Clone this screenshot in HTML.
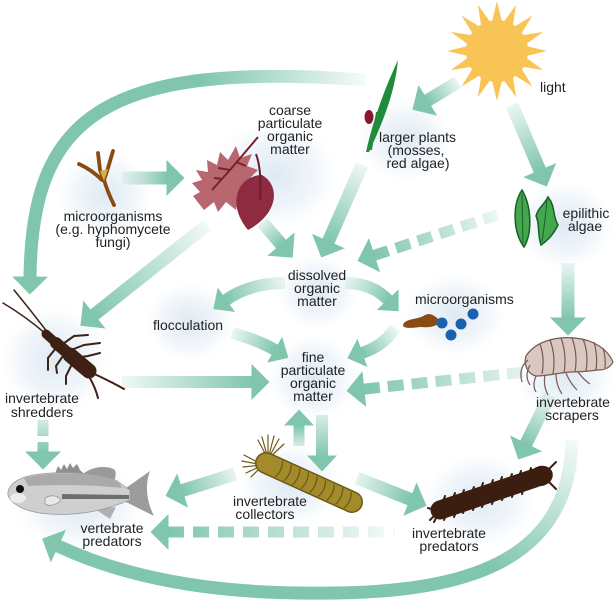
<!DOCTYPE html>
<html><head><meta charset="utf-8">
<style>
html,body{margin:0;padding:0;background:#fff;}
svg{display:block;}
text{font-family:"Liberation Sans",sans-serif;font-size:14px;fill:#222;text-anchor:middle;}
</style></head>
<body>
<svg width="614" height="600" viewBox="0 0 614 600" xmlns="http://www.w3.org/2000/svg">
<defs>
<radialGradient id="gl"><stop offset="0" stop-color="#dae7f2" stop-opacity="0.9"/><stop offset="0.6" stop-color="#e3edf6" stop-opacity="0.55"/><stop offset="1" stop-color="#eef4fa" stop-opacity="0"/></radialGradient>
<marker id="hb" markerUnits="userSpaceOnUse" markerWidth="19" markerHeight="36" viewBox="0 0 19 36" refX="0.5" refY="18" orient="auto"><path d="M0,0 L18,18 L0,36Z" fill="#80c6ad"/></marker>
<marker id="hbs" markerUnits="userSpaceOnUse" markerWidth="19" markerHeight="36" viewBox="0 0 19 36" refX="0.5" refY="18" orient="auto-start-reverse"><path d="M0,0 L18,18 L0,36Z" fill="#80c6ad"/></marker>
<marker id="hs" markerUnits="userSpaceOnUse" markerWidth="17" markerHeight="30" viewBox="0 0 17 30" refX="0.5" refY="15" orient="auto"><path d="M0,0 L16,15 L0,30Z" fill="#80c6ad"/></marker>
<polygon id="ray" points="-5.5,-27 0,-50 5.5,-27" fill="#f8c456"/>
<linearGradient id="g1" gradientUnits="userSpaceOnUse" x1="458" y1="82" x2="427" y2="101"><stop offset="0" stop-color="#80c6ad" stop-opacity="0.15"/><stop offset="1" stop-color="#80c6ad"/></linearGradient>
<linearGradient id="g2" gradientUnits="userSpaceOnUse" x1="512" y1="105" x2="540" y2="170"><stop offset="0" stop-color="#80c6ad" stop-opacity="0.15"/><stop offset="1" stop-color="#80c6ad"/></linearGradient>
<linearGradient id="g3" gradientUnits="userSpaceOnUse" x1="362" y1="165" x2="328" y2="241"><stop offset="0" stop-color="#80c6ad" stop-opacity="0.15"/><stop offset="1" stop-color="#80c6ad"/></linearGradient>
<linearGradient id="g4" gradientUnits="userSpaceOnUse" x1="497" y1="215" x2="374" y2="255"><stop offset="0" stop-color="#80c6ad" stop-opacity="0.15"/><stop offset="1" stop-color="#80c6ad"/></linearGradient>
<linearGradient id="g5" gradientUnits="userSpaceOnUse" x1="568" y1="263" x2="568" y2="318"><stop offset="0" stop-color="#80c6ad" stop-opacity="0.15"/><stop offset="1" stop-color="#80c6ad"/></linearGradient>
<linearGradient id="g6" gradientUnits="userSpaceOnUse" x1="122" y1="178" x2="167" y2="178"><stop offset="0" stop-color="#80c6ad" stop-opacity="0.1"/><stop offset="1" stop-color="#80c6ad"/></linearGradient>
<linearGradient id="g7" gradientUnits="userSpaceOnUse" x1="262" y1="222" x2="281" y2="244"><stop offset="0" stop-color="#80c6ad" stop-opacity="0.2"/><stop offset="1" stop-color="#80c6ad"/></linearGradient>
<linearGradient id="g8" gradientUnits="userSpaceOnUse" x1="207" y1="225" x2="94" y2="315"><stop offset="0" stop-color="#80c6ad" stop-opacity="0.1"/><stop offset="1" stop-color="#80c6ad"/></linearGradient>
<linearGradient id="g9" gradientUnits="userSpaceOnUse" x1="365" y1="80" x2="200" y2="80"><stop offset="0" stop-color="#80c6ad" stop-opacity="0.08"/><stop offset="1" stop-color="#80c6ad"/></linearGradient>
<linearGradient id="g10" gradientUnits="userSpaceOnUse" x1="285" y1="283" x2="226" y2="300"><stop offset="0" stop-color="#80c6ad" stop-opacity="0.15"/><stop offset="1" stop-color="#80c6ad"/></linearGradient>
<linearGradient id="g11" gradientUnits="userSpaceOnUse" x1="345" y1="283" x2="388" y2="300"><stop offset="0" stop-color="#80c6ad" stop-opacity="0.15"/><stop offset="1" stop-color="#80c6ad"/></linearGradient>
<linearGradient id="g12" gradientUnits="userSpaceOnUse" x1="232" y1="333" x2="275" y2="350"><stop offset="0" stop-color="#80c6ad" stop-opacity="0.15"/><stop offset="1" stop-color="#80c6ad"/></linearGradient>
<linearGradient id="g13" gradientUnits="userSpaceOnUse" x1="395" y1="328" x2="362" y2="353"><stop offset="0" stop-color="#80c6ad" stop-opacity="0.15"/><stop offset="1" stop-color="#80c6ad"/></linearGradient>
<linearGradient id="g14" gradientUnits="userSpaceOnUse" x1="122" y1="382" x2="252" y2="382"><stop offset="0" stop-color="#80c6ad" stop-opacity="0.12"/><stop offset="1" stop-color="#80c6ad"/></linearGradient>
<linearGradient id="g15" gradientUnits="userSpaceOnUse" x1="545" y1="370" x2="364" y2="389"><stop offset="0" stop-color="#80c6ad" stop-opacity="0.1"/><stop offset="1" stop-color="#80c6ad"/></linearGradient>
<linearGradient id="g16" gradientUnits="userSpaceOnUse" x1="299" y1="446" x2="299" y2="426"><stop offset="0" stop-color="#80c6ad" stop-opacity="0.3"/><stop offset="1" stop-color="#80c6ad"/></linearGradient>
<linearGradient id="g16b" gradientUnits="userSpaceOnUse" x1="322" y1="415" x2="322" y2="456"><stop offset="0" stop-color="#80c6ad" stop-opacity="0.3"/><stop offset="1" stop-color="#80c6ad"/></linearGradient>
<linearGradient id="g17" gradientUnits="userSpaceOnUse" x1="235" y1="474" x2="182" y2="491"><stop offset="0" stop-color="#80c6ad" stop-opacity="0.2"/><stop offset="1" stop-color="#80c6ad"/></linearGradient>
<linearGradient id="g18" gradientUnits="userSpaceOnUse" x1="357" y1="478" x2="410" y2="499"><stop offset="0" stop-color="#80c6ad" stop-opacity="0.2"/><stop offset="1" stop-color="#80c6ad"/></linearGradient>
<linearGradient id="g19" gradientUnits="userSpaceOnUse" x1="395" y1="532" x2="168" y2="532"><stop offset="0" stop-color="#80c6ad" stop-opacity="0.08"/><stop offset="1" stop-color="#80c6ad"/></linearGradient>
<linearGradient id="g20" gradientUnits="userSpaceOnUse" x1="43" y1="418" x2="43" y2="452"><stop offset="0" stop-color="#80c6ad" stop-opacity="0.3"/><stop offset="1" stop-color="#80c6ad"/></linearGradient>
<linearGradient id="g21" gradientUnits="userSpaceOnUse" x1="550" y1="395" x2="526" y2="444"><stop offset="0" stop-color="#80c6ad" stop-opacity="0.15"/><stop offset="1" stop-color="#80c6ad"/></linearGradient>
<linearGradient id="g22" gradientUnits="userSpaceOnUse" x1="575" y1="440" x2="500" y2="572"><stop offset="0" stop-color="#80c6ad" stop-opacity="0.08"/><stop offset="1" stop-color="#80c6ad"/></linearGradient>
</defs>

<!-- glows -->
<g>
<ellipse cx="275" cy="175" rx="65" ry="55" fill="url(#gl)"/>
<ellipse cx="105" cy="195" rx="48" ry="45" fill="url(#gl)"/>
<ellipse cx="405" cy="140" rx="48" ry="42" fill="url(#gl)"/>
<ellipse cx="565" cy="225" rx="50" ry="45" fill="url(#gl)"/>
<ellipse cx="318" cy="292" rx="42" ry="38" fill="url(#gl)"/>
<ellipse cx="190" cy="322" rx="45" ry="40" fill="url(#gl)"/>
<ellipse cx="455" cy="315" rx="52" ry="42" fill="url(#gl)"/>
<ellipse cx="313" cy="378" rx="46" ry="44" fill="url(#gl)"/>
<ellipse cx="55" cy="360" rx="55" ry="55" fill="url(#gl)"/>
<ellipse cx="565" cy="375" rx="50" ry="45" fill="url(#gl)"/>
<ellipse cx="290" cy="485" rx="52" ry="42" fill="url(#gl)"/>
<ellipse cx="480" cy="500" rx="58" ry="48" fill="url(#gl)"/>
<ellipse cx="80" cy="505" rx="68" ry="45" fill="url(#gl)"/>
</g>

<!-- arrows -->
<g fill="none">
<path d="M458,82 L427.4,100.6" stroke="url(#g1)" stroke-width="13" marker-end="url(#hb)"/>
<path d="M512,105 L539.9,170.5" stroke="url(#g2)" stroke-width="13" marker-end="url(#hb)"/>
<path d="M362,165 L328.3,241.5" stroke="url(#g3)" stroke-width="13" marker-end="url(#hb)"/>
<path d="M374.1,255.4 L497,215" stroke="url(#g4)" stroke-width="11" stroke-dasharray="15 8" marker-start="url(#hbs)"/>
<path d="M568,263 L568,318" stroke="url(#g5)" stroke-width="13" marker-end="url(#hb)"/>
<path d="M122,178 L167,178" stroke="url(#g6)" stroke-width="13" marker-end="url(#hb)"/>
<path d="M262,222 L281.3,244.4" stroke="url(#g7)" stroke-width="13" marker-end="url(#hb)"/>
<path d="M207,225 L94.1,314.8" stroke="url(#g8)" stroke-width="13" marker-end="url(#hb)"/>
<path d="M365,80 C100,60 32,120 30,277" stroke="url(#g9)" stroke-width="13" marker-end="url(#hb)"/>
<path d="M285,283 Q250,283 226,300" stroke="url(#g10)" stroke-width="12" marker-end="url(#hs)"/>
<path d="M345,283 Q372,283 388,300" stroke="url(#g11)" stroke-width="12" marker-end="url(#hs)"/>
<path d="M232,333 Q258,340 275,350" stroke="url(#g12)" stroke-width="12" marker-end="url(#hs)"/>
<path d="M395,328 Q385,345 362,353" stroke="url(#g13)" stroke-width="12" marker-end="url(#hs)"/>
<path d="M122,382 L252,382" stroke="url(#g14)" stroke-width="12" marker-end="url(#hb)"/>
<path d="M363.9,389.1 L545,370" stroke="url(#g15)" stroke-width="11" stroke-dasharray="16 8" marker-start="url(#hbs)"/>
<path d="M299,446 L299,425" stroke="url(#g16)" stroke-width="11" marker-end="url(#hs)"/>
<path d="M322,415 L322,456" stroke="url(#g16b)" stroke-width="12" marker-end="url(#hs)"/>
<path d="M235,474 L182.2,490.6" stroke="url(#g17)" stroke-width="13" marker-end="url(#hb)"/>
<path d="M357,478 L410.3,499.3" stroke="url(#g18)" stroke-width="13" marker-end="url(#hb)"/>
<path d="M168,532 L395,532" stroke="url(#g19)" stroke-width="11" stroke-dasharray="16 9" marker-start="url(#hbs)"/>
<path d="M43,452 L43,418" stroke="url(#g20)" stroke-width="11" stroke-dasharray="10 6 16 20" marker-start="url(#hbs)"/>
<path d="M550,395 L526,443.8" stroke="url(#g21)" stroke-width="13" marker-end="url(#hb)"/>
<path d="M572,440 C570,580 430,595 300,593 C200,592 120,575 58,546" stroke="url(#g22)" stroke-width="13" marker-end="url(#hb)"/>
</g>

<!-- sun -->
<g transform="translate(497,51)">
<use href="#ray" transform="rotate(0)"/><use href="#ray" transform="rotate(22.5)"/><use href="#ray" transform="rotate(45)"/><use href="#ray" transform="rotate(67.5)"/>
<use href="#ray" transform="rotate(90)"/><use href="#ray" transform="rotate(112.5)"/><use href="#ray" transform="rotate(135)"/><use href="#ray" transform="rotate(157.5)"/>
<use href="#ray" transform="rotate(180)"/><use href="#ray" transform="rotate(202.5)"/><use href="#ray" transform="rotate(225)"/><use href="#ray" transform="rotate(247.5)"/>
<use href="#ray" transform="rotate(270)"/><use href="#ray" transform="rotate(292.5)"/><use href="#ray" transform="rotate(315)"/><use href="#ray" transform="rotate(337.5)"/>
<circle r="31" fill="#f8c456"/>
</g>

<!-- larger plants -->
<path d="M366,152 C373,120 385,88 398,60 C395,92 383,122 369,152 Z" fill="#1f8c3b"/>
<path d="M371,150 L377,112" stroke="#1f8c3b" stroke-width="2" fill="none"/>
<ellipse cx="369" cy="117" rx="4.5" ry="7" fill="#861a2c"/>

<!-- epilithic algae -->
<path d="M522,190 C531,205 533,232 524,247 C513,232 512,205 522,190 Z" fill="#43a84c" stroke="#1a5e2c" stroke-width="1.5"/>
<path d="M522,194 L523,243" stroke="#1a5e2c" stroke-width="1"/>
<path d="M548,197 C556,207 552,215 558,225 C553,235 548,240 541,245 C537,232 540,224 536,216 C538,208 544,205 548,197 Z" fill="#43a84c" stroke="#1a5e2c" stroke-width="1.5"/>
<path d="M547,200 Q545,222 542,242" stroke="#1a5e2c" stroke-width="1" fill="none"/>

<!-- fungi twig -->
<g fill="none" stroke="#8a4b12" stroke-width="3.8" stroke-linecap="round">
<path d="M79,164 Q92,170 102,180"/>
<path d="M98,153 L100,170 L104,180"/>
<path d="M113,151 L108,168 L104,180"/>
<path d="M104,180 Q108,193 114,205"/>
</g>
<polygon points="100,171 108,169 104,181" fill="#d4b048"/>

<!-- CPOM leaves -->
<path d="M200,205 L193,196 L200,192 L192,183 L202,180 L196,170 L208,172 L207,160 L217,165 L220,152 L228,160 L236,146 L240,158 L252,154 L247,166 L258,170 L250,178 L256,186 L246,190 L250,200 L238,198 L236,210 L226,202 L218,212 L214,202 L204,210 Z" fill="#b9676f"/>
<path d="M258,137 L230,170 L212,190 M230,170 L218,168 M236,162 L246,166 M222,179 L214,178" stroke="#7a2030" stroke-width="2" fill="none"/>
<path d="M262,175 C281,186 278,214 248,230 C236,216 231,196 244,182 C250,177 256,175 262,175 Z" fill="#8e2b41"/>
<path d="M256,154 Q262,170 260,200" stroke="#6b1f2a" stroke-width="2" fill="none"/>

<!-- microorganisms -->
<path d="M403,325 C405,318 418,320 425,315 C432,312 436,318 440,320 C440,326 430,328 420,327 C412,328 403,329 403,325 Z" fill="#8a4a14"/>
<circle cx="442" cy="323" r="5.5" fill="#1763b0"/>
<circle cx="461" cy="324" r="5.5" fill="#1763b0"/>
<circle cx="473" cy="314" r="5.5" fill="#1763b0"/>
<circle cx="451" cy="335" r="5.5" fill="#1763b0"/>

<!-- shredder -->
<g fill="none" stroke="#3e2114" stroke-linecap="round">
<path d="M46,334 Q25,316 3,303" stroke-width="1.5"/>
<path d="M48,333 Q32,312 14,290" stroke-width="1.5"/>
<path d="M90,372 Q108,380 124,389" stroke-width="2"/>
<path d="M88,375 Q95,386 98,398" stroke-width="2"/>
<path d="M60,346 L74,336 L88,335" stroke-width="2"/>
<path d="M66,352 L84,345 L100,343" stroke-width="2"/>
<path d="M73,358 L88,356 L100,353" stroke-width="2"/>
<path d="M56,348 L48,358 L48,370" stroke-width="2"/>
<path d="M63,356 L56,366 L57,373" stroke-width="2"/>
<path d="M72,364 L66,376 L66,384" stroke-width="2"/>
<path d="M46,334 L56,343" stroke-width="9"/>
<path d="M56,343 L70,355" stroke-width="12"/>
<path d="M70,355 L89,371" stroke-width="15"/>
</g>

<!-- amphipod -->
<path d="M526,356 C535,342 555,336 575,338 C595,340 608,350 613,362 C610,368 604,370 598,370 C590,371 580,372 570,372 C558,373 546,376 536,376 C528,374 523,365 526,356 Z" fill="#d8c8c1" stroke="#7a5a4e" stroke-width="1.2"/>
<g fill="none" stroke="#7a5a4e" stroke-width="1.2">
<path d="M540,344 Q545,358 542,374 M550,340 Q556,356 553,374 M561,338 Q567,354 564,373 M572,338 Q578,354 575,372 M583,339 Q589,354 586,371 M594,342 Q598,356 596,370 M603,348 Q606,358 605,368"/>
<path d="M536,376 Q532,385 536,392 M545,375 Q543,386 548,395 M556,374 Q556,385 562,394 M566,373 Q570,383 577,390 M578,372 Q584,380 590,384"/>
<path d="M528,360 Q518,368 522,382 M530,365 Q524,376 530,385"/>
</g>

<!-- centipede -->
<g stroke="#3b1e10" stroke-linecap="round" fill="none">
<path d="M440,510 L445,496 M449.5,506.8 L455,493 M459,503.6 L464,490 M468.5,500.4 L474,487 M478,497.2 L483,483 M487.5,494 L493,480 M497,490.8 L502,477 M506.5,487.6 L512,474 M516,484.4 L521,471 M525.5,481.2 L531,468" stroke-width="2"/>
<path d="M440,510 L434,522 M449.5,506.8 L444,520 M459,503.6 L454,517 M468.5,500.4 L463,513 M478,497.2 L473,510 M487.5,494 L482,507 M497,490.8 L492,504 M506.5,487.6 L502,500 M516,484.4 L512,497 M525.5,481.2 L522,494" stroke-width="2"/>
<path d="M438,511 L428,508 M438,512 L430,520" stroke-width="2"/>
<path d="M440,510 L535,478" stroke-width="19"/>
<path d="M548,470 L556,462 M549,482 L556,489" stroke-width="2"/>
</g>
<ellipse cx="541" cy="476" rx="12" ry="10" fill="#3b1e10" transform="rotate(-18 541 476)"/>

<!-- collector worm -->
<g fill="none" stroke="#6d5a16" stroke-width="1.2" stroke-linecap="round">
<path d="M268,459 L258,440 M268,459 L262,437 M268,459 L268,435 M268,459 L274,436 M268,459 L279,439 M268,459 L284,444"/>
<path d="M263,465 L244,455 M263,465 L242,461 M263,465 L243,467 M263,465 L246,473 M263,465 L251,477"/>
</g>
<path d="M266,463 L352,502" stroke="#6d5a16" stroke-width="22" stroke-linecap="round" fill="none"/>
<path d="M266,463 L352,502" stroke="#a38b2c" stroke-width="19" stroke-linecap="round" fill="none"/>
<path d="M282.6,460.7 Q282.5,470.6 275.2,477.1 M291.2,464.6 Q291.1,474.4 283.8,480.9 M299.8,468.5 Q299.7,478.3 292.4,484.8 M308.4,472.4 Q308.3,482.2 301,488.7 M317,476.3 Q316.9,486.1 309.6,492.6 M325.6,480.2 Q325.5,490 318.2,496.5 M334.2,484.1 Q334.1,493.9 326.8,500.4 M342.8,488 Q342.7,497.8 335.4,504.3 M351.4,491.9 Q351.3,501.7 344,508.2" stroke="#6d5a16" stroke-width="1.3" fill="none"/>

<!-- fish -->
<path d="M126,488 L150,471 C145,484 146,500 154,516 L126,502 Z" fill="#9c9c9c"/>
<path d="M55,474 L58,466 L61,470 L64,464 L67,469 L70,463 L73,468 L77,464 L80,470 L84,474 Z" fill="#8f8f8f"/>
<path d="M83,474 C92,466 108,465 115,470 C117,476 114,483 110,485 Z" fill="#9a9a9a"/>
<path d="M95,509 L110,519 L116,507 Z" fill="#b0b0b0"/>
<path d="M8,492 C10,482 22,476 40,474 C65,471 95,473 115,480 C122,484 126,488 130,490 L130,500 C122,503 110,508 95,511 C70,516 40,516 22,508 C12,503 7,498 8,492 Z" fill="#cfcfcf" stroke="#9a9a9a" stroke-width="0.8"/>
<path d="M24,478 C50,471 95,472 118,481 L122,488 C95,485 60,484 28,486 Z" fill="#aaaaaa"/>
<path d="M62,494 L129,495 L129,499 L62,499 Z" fill="#6e6e6e"/>
<ellipse cx="18" cy="498" rx="8" ry="5" fill="#ececec"/>
<path d="M45,498 C52,494 58,496 61,500 C56,505 50,507 45,504 Z" fill="#e8e8e8" stroke="#999" stroke-width="0.8"/>
<circle cx="20" cy="489" r="4" fill="#111"/>

<!-- labels -->
<text x="290" y="115">coarse</text>
<text x="290" y="128">particulate</text>
<text x="290" y="141">organic</text>
<text x="290" y="154">matter</text>
<text x="540" y="92" style="text-anchor:start">light</text>
<text x="379" y="142" style="text-anchor:start">larger plants</text>
<text x="416" y="155">(mosses,</text>
<text x="418" y="168">red algae)</text>
<text x="113" y="221">microorganisms</text>
<text x="113" y="234">(e.g. hyphomycete</text>
<text x="113" y="247">fungi)</text>
<text x="586" y="218">epilithic</text>
<text x="585" y="231">algae</text>
<text x="317" y="280">dissolved</text>
<text x="317" y="293">organic</text>
<text x="317" y="306">matter</text>
<text x="188" y="330">flocculation</text>
<text x="415" y="304" style="text-anchor:start">microorganisms</text>
<text x="313" y="362">fine</text>
<text x="313" y="375">particulate</text>
<text x="313" y="388">organic</text>
<text x="313" y="401">matter</text>
<text x="42" y="403">invertebrate</text>
<text x="42" y="417">shredders</text>
<text x="573" y="407">invertebrate</text>
<text x="572" y="420">scrapers</text>
<text x="270" y="506">invertebrate</text>
<text x="265" y="519">collectors</text>
<text x="112" y="533">vertebrate</text>
<text x="112" y="546">predators</text>
<text x="449" y="538">invertebrate</text>
<text x="449" y="551">predators</text>
</svg>
</body></html>
